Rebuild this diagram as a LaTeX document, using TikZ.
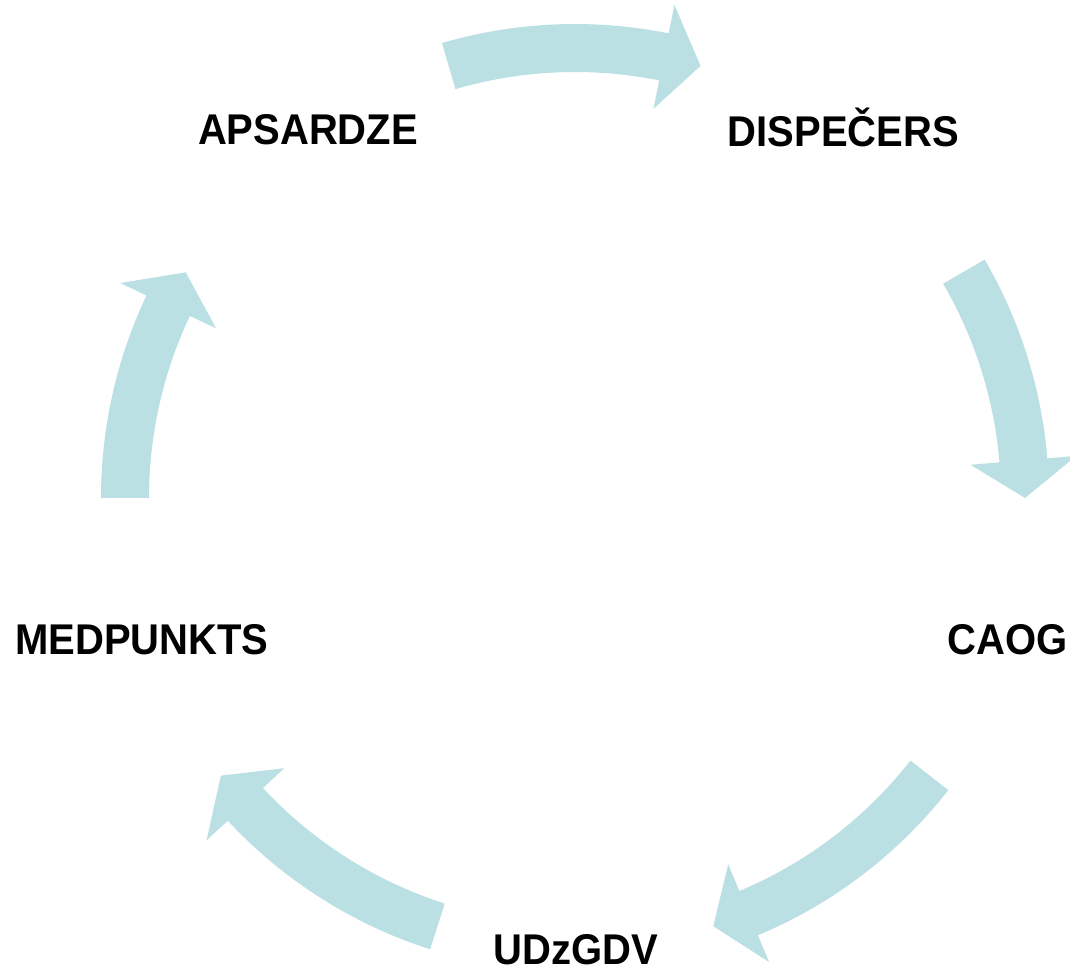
\documentclass[tikz,border=0pt]{standalone}
\usepackage{fontspec}
\setmainfont{Liberation Sans}
\definecolor{arrowteal}{RGB}{187,224,227}
\tikzset{
  arrowfill/.style={fill=arrowteal, draw=none},
  lbl/.style={anchor=base, inner sep=0pt, font=\bfseries\fontsize{43}{50}\selectfont, text=black}
}
\newcommand{\cycarrow}[2]{%
  \pgfmathsetmacro{\hb}{#2+4.8}%
  \fill[arrowfill] (#1:474pt) arc[start angle=#1, end angle=\hb, radius=474pt]
    -- (\hb:503pt) -- (#2:450pt) -- (\hb:397pt) -- (\hb:426pt)
    arc[start angle=\hb, end angle=#1, radius=426pt] -- cycle;}
\newcommand{\sq}[1]{\scalebox{0.93}[1]{#1}}
\begin{document}
\begin{tikzpicture}[x=1pt,y=1pt]
\useasboundingbox[fill=white] (-575,-473) rectangle (495,498);
\cycarrow{106.3}{73.8}
\cycarrow{30.2}{0}
\cycarrow{-38.05}{-72.1}
\cycarrow{252.2}{218.1}
\cycarrow{180}{149.9}
\node[lbl] (aps) at (-267,353) {\sq{APSARDZE}};
\node[lbl] (disp) at (268.5,351.3) {\sq{DISPEČERS}};
\node[lbl] (caog) at (432.5,-156) {\sq{CAOG}};
\node[lbl] (udz) at (0.5,-466) {\sq{UDzGDV}};
\node[lbl] (med) at (-433,-156) {\sq{MEDPUNKTS}};
\end{tikzpicture}
\end{document}
